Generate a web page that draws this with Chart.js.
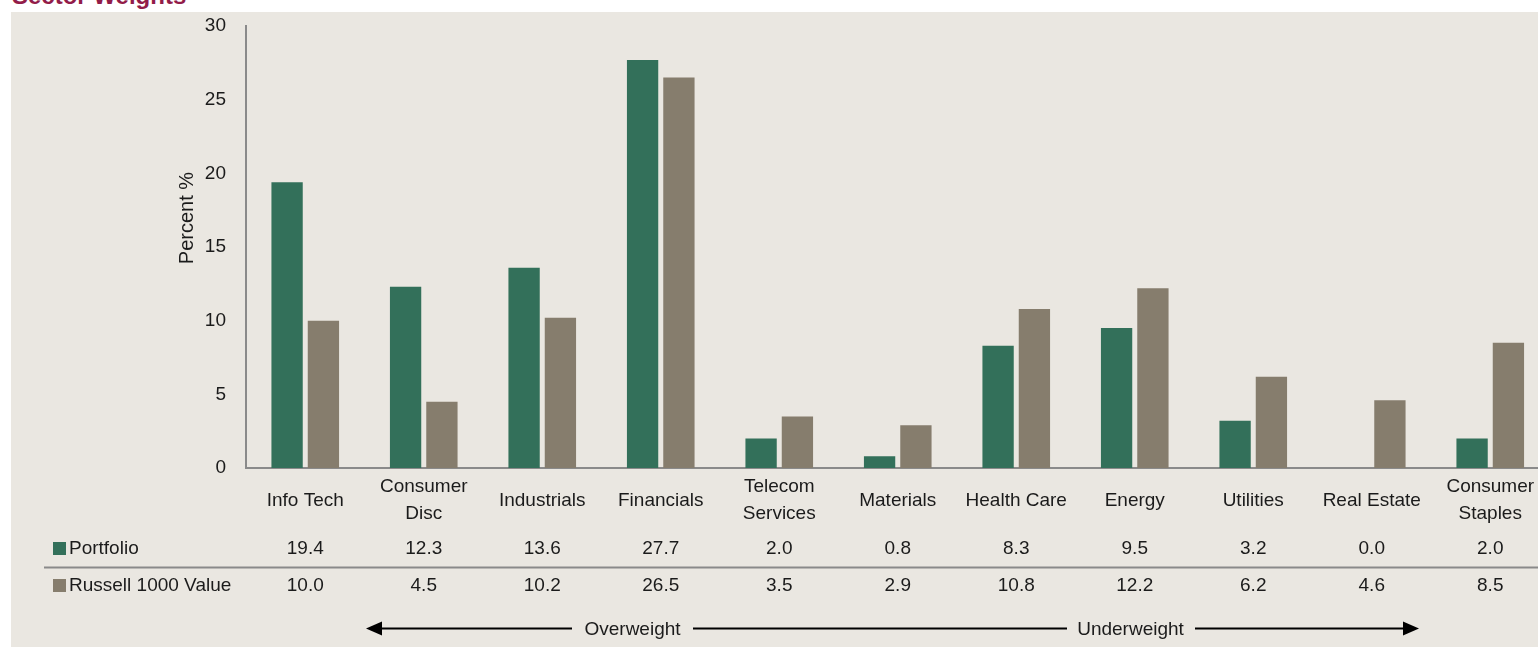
<!DOCTYPE html>
<html>
<head>
<meta charset="utf-8">
<script src="https://cdn.jsdelivr.net/npm/chart.js@4.4.1/dist/chart.umd.min.js"></script>
<style>
  html, body { margin: 0; padding: 0; background: #fff; overflow: hidden; width: 1538px; height: 647px; }
  #panel { position: absolute; left: 11px; top: 12px; right: 0; bottom: 0; background: #eae7e1; }
  #title { position: absolute; left: 12px; top: -16px; font: bold 24px "Liberation Sans", Arial, sans-serif; line-height: 24px; color: #921c49; white-space: nowrap; }
  #wrap { position: absolute; left: 0; top: 0; width: 1560px; height: 647px; }
</style>
</head>
<body>
<div id="panel"></div>
<div id="title">Sector Weights</div>
<div id="wrap"><canvas id="chart"></canvas></div>
<script>
const categories = [
  ["Info Tech"], ["Consumer", "Disc"], ["Industrials"], ["Financials"],
  ["Telecom", "Services"], ["Materials"], ["Health Care"], ["Energy"],
  ["Utilities"], ["Real Estate"], ["Consumer", "Staples"],
]
const portfolio = [19.4, 12.3, 13.6, 27.7, 2.0, 0.8, 8.3, 9.5, 3.2, 0.0, 2.0]
const russell1000Value = [10.0, 4.5, 10.2, 26.5, 3.5, 2.9, 10.8, 12.2, 6.2, 4.6, 8.5]
const seriesNames = ["Portfolio", "Russell 1000 Value"]
const yTitle = "Percent %"
const arrowLabels = ["Overweight", "Underweight"]

const FONT = '"Liberation Sans", Arial, sans-serif'
const TEXT = "#1b1b1b"
const AXIS = "#8a8a8a"
const GREEN = "#33705a"
const TAUPE = "#867d6d"

Chart.defaults.font.family = FONT
Chart.defaults.font.size = 19
Chart.defaults.color = TEXT

// table rows under the axis, the y title and the over/underweight arrow
const extras = {
  id: "extras",
  afterDraw(chart) {
    const ctx = chart.ctx
    const xs = chart.scales.x
    ctx.save()
    ctx.font = `19px ${FONT}`
    ctx.fillStyle = TEXT
    ctx.textBaseline = "middle"

    const rows = [
      { name: seriesNames[0], values: portfolio, color: GREEN, y: 549 },
      { name: seriesNames[1], values: russell1000Value, color: TAUPE, y: 586 },
    ]
    rows.forEach((row) => {
      ctx.fillStyle = row.color
      ctx.fillRect(53, row.y - 7, 13, 13)
      ctx.fillStyle = TEXT
      ctx.textAlign = "left"
      ctx.fillText(row.name, 69, row.y)
      ctx.textAlign = "center"
      row.values.forEach((v, i) => {
        ctx.fillText(v.toFixed(1), xs.getPixelForValue(i), row.y)
      })
    })

    ctx.strokeStyle = AXIS
    ctx.lineWidth = 2
    ctx.beginPath()
    ctx.moveTo(44, 567.5)
    ctx.lineTo(1560, 567.5)
    ctx.stroke()

    // y axis title
    ctx.save()
    ctx.font = `20px ${FONT}`
    ctx.translate(187, 218)
    ctx.rotate(-Math.PI / 2)
    ctx.textAlign = "center"
    ctx.fillText(yTitle, 0, 0)
    ctx.restore()

    // arrow
    const ay = 628.5
    ctx.strokeStyle = "#000"
    ctx.fillStyle = "#000"
    ctx.lineWidth = 2
    ctx.beginPath()
    ctx.moveTo(380, ay); ctx.lineTo(572, ay)
    ctx.moveTo(693, ay); ctx.lineTo(1067, ay)
    ctx.moveTo(1195, ay); ctx.lineTo(1405, ay)
    ctx.stroke()
    ctx.beginPath()
    ctx.moveTo(366, ay); ctx.lineTo(382, ay - 7); ctx.lineTo(382, ay + 7); ctx.closePath()
    ctx.fill()
    ctx.beginPath()
    ctx.moveTo(1419, ay); ctx.lineTo(1403, ay - 7); ctx.lineTo(1403, ay + 7); ctx.closePath()
    ctx.fill()
    ctx.fillStyle = TEXT
    ctx.textAlign = "center"
    ctx.fillText(arrowLabels[0], 632.5, ay + 1)
    ctx.fillText(arrowLabels[1], 1130.5, ay + 1)
    ctx.restore()
  },
}

new Chart(document.getElementById("chart"), {
  type: "bar",
  data: {
    labels: categories,
    datasets: [
      { label: seriesNames[0], data: portfolio, backgroundColor: GREEN },
      { label: seriesNames[1], data: russell1000Value, backgroundColor: TAUPE },
    ],
  },
  options: {
    animation: false,
    responsive: true,
    maintainAspectRatio: false,
    devicePixelRatio: 1,
    layout: { padding: { top: 26, left: 0, right: 10.5, bottom: 0 } },
    datasets: { bar: { categoryPercentage: 0.613, barPercentage: 0.862 } },
    plugins: {
      legend: { display: false },
      tooltip: { enabled: false },
    },
    scales: {
      x: {
        grid: { display: false, drawTicks: false },
        border: { color: AXIS, width: 2 },
        ticks: { color: TEXT, padding: 19, crossAlign: "center", maxRotation: 0, autoSkip: false, font: { lineHeight: 27 / 19 } },
        afterFit(scale) { scale.height = 179 },
      },
      y: {
        min: 0,
        max: 30,
        grid: { display: false, drawTicks: false },
        border: { color: AXIS, width: 2 },
        ticks: { stepSize: 5, padding: 20, color: TEXT },
        afterFit(scale) {
          scale.width = 246
          scale.paddingTop = 0
          scale.paddingBottom = 0
        },
      },
    },
  },
  plugins: [extras],
})
</script>
</body>
</html>
